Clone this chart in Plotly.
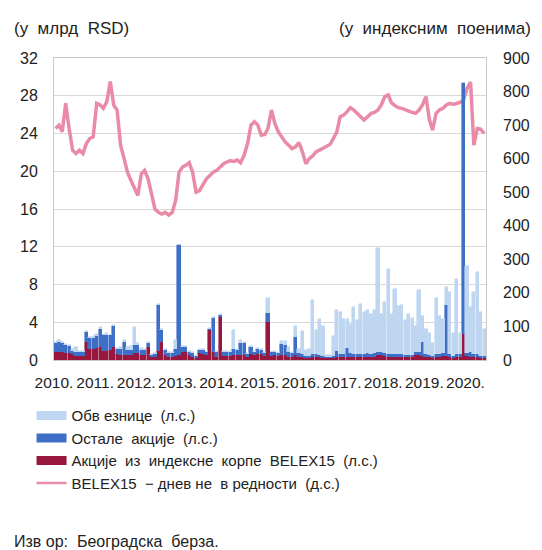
import pandas as pd
import plotly.graph_objects as go

# monthly values, Jan 2010 - Jun 2020
months = pd.date_range("2010-01-01", periods=126, freq="MS") + pd.Timedelta(days=14)

# BELEX15 (index points, right axis)
belex15 = [
    690, 700, 680, 765, 690, 625, 615, 625, 615, 645, 660, 665,   # 2010
    765, 760, 750, 770, 830, 760, 745, 640, 600, 560, 535, 510,   # 2011
    490, 555, 565, 540, 495, 450, 440, 435, 440, 432, 440, 475,   # 2012
    560, 575, 580, 588, 560, 500, 505, 525, 540, 550, 560, 565,   # 2013
    575, 585, 590, 594, 592, 596, 588, 610, 645, 700, 710, 700,   # 2014
    670, 672, 690, 745, 705, 680, 665, 650, 640, 630, 635, 648,   # 2015
    620, 585, 600, 608, 620, 625, 632, 635, 642, 660, 680, 725,   # 2016
    730, 740, 752, 745, 735, 725, 715, 725, 735, 738, 745, 760,   # 2017
    785, 790, 766, 758, 752, 750, 745, 742, 738, 735, 745, 760,   # 2018
    785, 715, 685, 735, 745, 750, 760, 765, 762, 766, 768, 775,   # 2019
    810, 828, 640, 690, 688, 675,                                 # 2020
]

# turnover, bn RSD (left axis)
belex_shares = [
    0.8, 0.9, 0.9, 0.7, 0.7, 0.6, 0.4, 0.4, 0.4, 1.9, 1.2, 1.2,
    1.3, 1.4, 1.0, 1.0, 1.1, 1.4, 0.6, 0.5, 0.5, 0.5, 0.5, 0.7,
    0.7, 0.5, 0.5, 1.4, 0.3, 0.3, 1.0, 1.9, 0.5, 0.3, 0.3, 0.4,
    0.5, 0.9, 0.8, 0.5, 0.3, 0.2, 0.7, 0.6, 0.5, 3.2, 0.8, 0.3,
    4.6, 0.4, 0.4, 0.4, 0.5, 0.5, 0.5, 0.5, 0.3, 0.6, 0.5, 0.6,
    0.6, 0.4, 4.0, 0.4, 0.5, 0.4, 0.5, 0.5, 0.3, 0.3, 0.5, 0.3,
    0.3, 0.2, 0.2, 0.3, 0.3, 0.3, 0.2, 0.2, 0.2, 0.2, 0.3, 0.3,
    0.3, 0.3, 0.3, 0.3, 0.3, 0.3, 0.3, 0.3, 0.3, 0.3, 0.5, 0.5,
    0.4, 0.3, 0.3, 0.3, 0.3, 0.3, 0.3, 0.3, 0.3, 0.5, 0.5, 0.4,
    0.3, 0.3, 0.2, 0.3, 0.3, 0.4, 0.4, 0.3, 0.2, 0.3, 0.3, 2.8,
    0.4, 0.3, 0.3, 0.3, 0.2, 0.2,
]
other_shares = [
    1.0, 1.0, 0.9, 0.9, 0.8, 0.4, 0.5, 0.5, 0.4, 1.1, 1.1, 1.1,
    1.2, 1.9, 1.6, 1.7, 1.5, 2.2, 0.6, 0.7, 1.4, 0.6, 0.6, 0.9,
    0.9, 0.6, 0.6, 0.4, 0.2, 0.3, 4.8, 1.3, 0.6, 0.4, 0.4, 0.8,
    11.7, 0.5, 0.6, 0.4, 0.4, 0.2, 0.4, 0.5, 0.3, 0.1, 3.7, 0.6,
    0.2, 0.5, 0.5, 0.5, 0.7, 0.6, 1.3, 1.3, 0.3, 0.8, 0.4, 0.6,
    0.5, 0.3, 1.0, 0.4, 0.4, 0.3, 1.2, 1.1, 0.6, 0.4, 1.9, 0.4,
    0.3, 0.2, 0.2, 0.3, 0.3, 0.2, 0.2, 0.1, 0.1, 0.2, 0.7, 0.3,
    0.3, 1.0, 0.4, 0.3, 0.3, 0.3, 0.3, 0.4, 0.3, 0.4, 0.4, 0.3,
    0.3, 0.3, 0.3, 0.3, 0.3, 0.3, 0.2, 0.2, 0.2, 0.3, 0.3, 1.5,
    0.3, 0.2, 0.2, 0.3, 0.3, 0.3, 5.4, 0.3, 0.2, 0.3, 0.3, 26.5,
    0.3, 0.6, 0.3, 0.3, 0.2, 0.2,
]
bonds = [
    0.1, 0.2, 0.1, 0.1, 0.1, 0.2, 0.5, 0.1, 0.2, 0.1, 0.1, 0.2,
    0.3, 0.2, 0.1, 0.2, 0.1, 0.1, 0.1, 0.2, 0.2, 0.3, 0.4, 1.9,
    0.2, 0.2, 0.1, 0.1, 0.1, 0.1, 0.1, 0.1, 0.1, 0.1, 0.1, 0.9,
    0.0, 0.1, 0.1, 0.1, 0.1, 0.1, 0.1, 0.1, 0.1, 0.1, 0.1, 0.1,
    0.1, 0.1, 0.1, 0.1, 2.0, 0.1, 0.3, 0.1, 0.1, 0.1, 0.1, 0.1,
    0.1, 0.1, 1.6, 0.1, 0.1, 0.1, 0.3, 0.4, 0.5, 0.2, 1.2, 0.5,
    2.5, 0.7, 0.8, 5.8, 2.6, 3.8, 3.2, 0.2, 0.2, 2.1, 4.3, 4.5,
    3.7, 3.0, 3.1, 5.0, 3.6, 5.3, 4.5, 4.6, 4.3, 4.6, 11.0, 4.1,
    5.4, 9.0, 4.3, 6.9, 5.1, 5.2, 3.7, 4.4, 4.0, 2.8, 6.6, 2.8,
    2.7, 2.4, 1.4, 6.0, 4.1, 3.6, 1.9, 6.6, 2.5, 8.0, 2.3, 0.0,
    9.3, 4.7, 6.6, 8.7, 4.7, 2.9,
]

names = ["Обв езнице  (л.с.)", "Остале  акције  (л.с.)",
         "Акције  из  индексне  корпе  BELEX15  (л.с.)",
         "BELEX15  − днев не  в редности  (д.с.)"]
c_bonds = "#bfd6f1"
c_other = "#3d6fc6"
c_belex = "#98173f"
c_line = "#e98aa6"

fig = go.Figure()
# line on the right axis (drawn first), bars on the left axis overlaid on top
fig.add_trace(go.Scatter(x=months, y=belex15, yaxis="y", mode="lines",
                         line=dict(color=c_line, width=3.5), showlegend=False))
for vals, col in [(belex_shares, c_belex), (other_shares, c_other), (bonds, c_bonds)]:
    fig.add_trace(go.Bar(x=months, y=vals, yaxis="y2", marker_color=col,
                         marker_line=dict(width=0.6, color=col), showlegend=False))

# legend entries (wide swatches)
for nm, col, w, rk in [(names[0], c_bonds, 9, 1), (names[1], c_other, 9, 2),
                       (names[2], c_belex, 9, 3), (names[3], c_line, 2.5, 4)]:
    fig.add_trace(go.Scatter(x=[None], y=[None], mode="lines", name=nm,
                             line=dict(color=col, width=w), legendrank=rk))

# page has an 8px body margin, so the figure is drawn 8px smaller
fig.update_layout(
    width=534, height=542,
    margin=dict(l=45, r=50, t=50, b=190),
    paper_bgcolor="white", plot_bgcolor="white",
    font=dict(family="Liberation Sans, Arial, sans-serif", size=16, color="#222"),
    barmode="stack", bargap=0,
    xaxis=dict(type="date", range=["2010-01-01", "2020-07-01"], dtick="M12",
               tick0="2010-01-01", tickformat="%Y.", showgrid=False,
               showline=True, linecolor="#c8c8c8", mirror=True,
               ticks="", ticklabelstandoff=8, tickangle=0,
               tickfont=dict(size=15.5)),
    yaxis=dict(range=[0, 900], dtick=100, side="right",
               showgrid=False, zeroline=False, ticklabelstandoff=16),
    yaxis2=dict(range=[0, 32], dtick=4, overlaying="y", side="left",
                showgrid=True, gridcolor="#d9d9d9",
                showline=True, linecolor="#c8c8c8", mirror=True,
                zeroline=False, ticklabelstandoff=12),
    legend=dict(x=-0.052, y=-0.13, xanchor="left", yanchor="top",
                traceorder="normal", font=dict(size=15), bgcolor="rgba(0,0,0,0)"),
    annotations=[
        dict(text="(у  млрд  RSD)", xref="paper", yref="paper", x=-0.098, y=1.099,
             xanchor="left", yanchor="middle", showarrow=False, font=dict(size=17)),
        dict(text="(у  индексним  поенима)", xref="paper", yref="paper", x=1.109, y=1.099,
             xanchor="right", yanchor="middle", showarrow=False, font=dict(size=17)),
        dict(text="Изв ор:  Београдска  берза.", xref="paper", yref="paper", x=-0.098, y=-0.602,
             xanchor="left", yanchor="middle", showarrow=False),
    ],
)

fig.write_html("out.html")
